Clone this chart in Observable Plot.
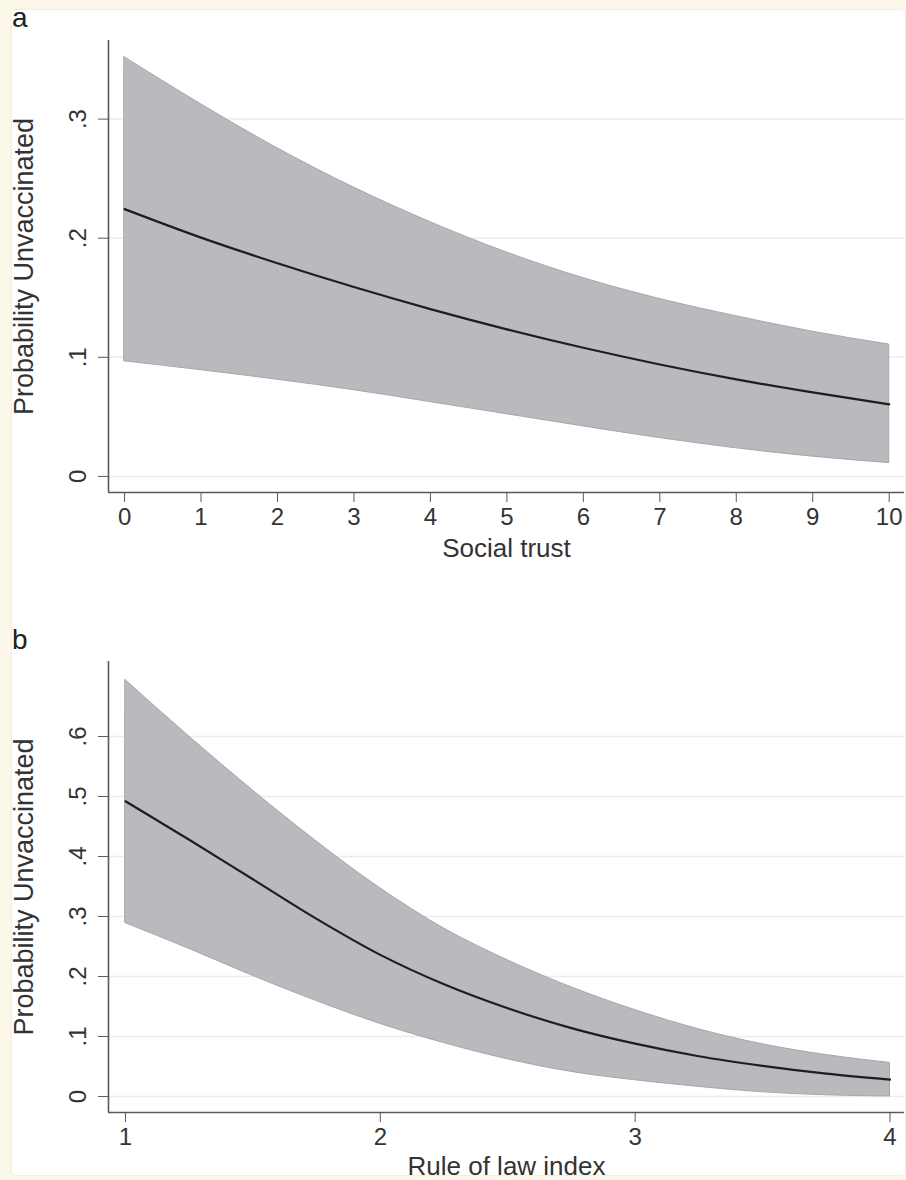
<!DOCTYPE html>
<html><head><meta charset="utf-8">
<script src="https://cdn.jsdelivr.net/npm/d3@7"></script>
<script src="https://cdn.jsdelivr.net/npm/@observablehq/plot@0.6"></script>
<style>
html,body{margin:0;padding:0;background:#fcf8ea;}
#page{position:relative;width:906px;height:1180px;overflow:hidden;font-family:"Liberation Sans",Arial,Helvetica,sans-serif;}
#card{position:absolute;left:12px;top:10px;width:893px;height:1165px;background:#fff;border-radius:4px;box-shadow:0 0 3px rgba(0,0,0,0.10);}
.panel{position:absolute;left:0;}
.letter{position:absolute;left:12px;font-size:28px;line-height:1;color:#222;z-index:2;}
</style></head><body>
<div id="page"><div id="card"></div>
<div id="pa" class="panel" style="top:0px"></div>
<div id="pb" class="panel" style="top:590px"></div>
<div class="letter" style="top:4px">a</div>
<div class="letter" style="top:626px">b</div>
</div>
<script>
// Panel a: Social trust
const trustX = [0, 1, 2, 3, 4, 5, 6, 7, 8, 9, 10];
const trustEst = [0.2244, 0.2005, 0.1790, 0.1590, 0.1405, 0.1235, 0.1080, 0.0940, 0.0815, 0.0705, 0.0605];
const trustHi = [0.352, 0.3125, 0.2755, 0.2425, 0.2135, 0.188, 0.1665, 0.149, 0.1345, 0.1215, 0.1107];
const trustLo = [0.0966, 0.0892, 0.0812, 0.0724, 0.0624, 0.0522, 0.0420, 0.0322, 0.0236, 0.0166, 0.0112];
const trustXTicks = [0, 1, 2, 3, 4, 5, 6, 7, 8, 9, 10];
const trustYTicks = [0, 0.1, 0.2, 0.3];

// Panel b: Rule of law index
const lawX = [1, 1.25, 1.5, 1.75, 2, 2.25, 2.5, 2.75, 3, 3.25, 3.5, 3.75, 4];
const lawEst = [0.492, 0.428, 0.362, 0.296, 0.236, 0.187, 0.147, 0.114, 0.088, 0.067, 0.051, 0.038, 0.028];
const lawHi = [0.694, 0.600, 0.510, 0.425, 0.347, 0.280, 0.227, 0.182, 0.144, 0.112, 0.087, 0.069, 0.056];
const lawLo = [0.289, 0.246, 0.201, 0.159, 0.121, 0.089, 0.062, 0.041, 0.027, 0.016, 0.007, 0.002, 0.0];
const lawXTicks = [1, 2, 3, 4];
const lawYTicks = [0, 0.1, 0.2, 0.3, 0.4, 0.5, 0.6];

const yLabel = "Probability Unvaccinated";
const fontFamily = '"Liberation Sans", Arial, Helvetica, sans-serif';
const fmt = d => d === 0 ? "0" : String(+d.toFixed(2)).replace(/^0\./, ".");

function panel({xs, est, lo, hi, xDomain, yDomain, xTicks, yTicks, xLabel, height, marginTop, marginBottom, titleDy}) {
  const data = xs.map((x, i) => ({x, est: est[i], lo: lo[i], hi: hi[i]}));
  return Plot.plot({
    width: 906, height, marginLeft: 108, marginRight: 2, marginTop, marginBottom,
    style: {background: "transparent", fontFamily, color: "#333", overflow: "visible"},
    x: {domain: xDomain},
    y: {domain: yDomain},
    marks: [
      Plot.gridY(yTicks, {stroke: "#ececec", strokeOpacity: 1, strokeWidth: 1.5}),
      Plot.areaY(data, {x: "x", y1: "lo", y2: "hi", fill: "#b9babd", stroke: "#a6a7aa", strokeWidth: 1, curve: "monotone-x"}),
      Plot.lineY(data, {x: "x", y: "est", stroke: "#1e1e1e", strokeWidth: 2.2, curve: "monotone-x"}),
      Plot.ruleX([xDomain[0]], {stroke: "#5a5a5a", strokeWidth: 1.6}),
      Plot.ruleY([yDomain[0]], {stroke: "#5a5a5a", strokeWidth: 1.6}),
      Plot.axisX({ticks: xTicks, tickSize: 10, tickPadding: 5, fontSize: 24, label: null, stroke: "#5a5a5a", fill: "#333", tickFormat: d => String(d)}),
      Plot.axisY({ticks: yTicks, tickSize: 10, tickPadding: 13, tickRotate: -90, tickFormat: fmt, fontSize: 24, label: null, stroke: "#5a5a5a", fill: "#333"}),
      Plot.text([xLabel], {frameAnchor: "bottom", dy: titleDy, fontSize: 26, fill: "#333", text: d => d}),
      Plot.text([yLabel], {frameAnchor: "left", textAnchor: "middle", dx: -84, rotate: -90, fontSize: 27, fill: "#333", text: d => d})
    ]
  });
}

document.getElementById("pa").append(panel({
  xs: trustX, est: trustEst, lo: trustLo, hi: trustHi,
  xDomain: [-0.21, 10.2], yDomain: [-0.0135, 0.366],
  xTicks: trustXTicks, yTicks: trustYTicks, xLabel: "Social trust",
  height: 580, marginTop: 40, marginBottom: 88, titleDy: 64
}));
document.getElementById("pb").append(panel({
  xs: lawX, est: lawEst, lo: lawLo, hi: lawHi,
  xDomain: [0.9333, 4.057], yDomain: [-0.0267, 0.725],
  xTicks: lawXTicks, yTicks: lawYTicks, xLabel: "Rule of law index",
  height: 590, marginTop: 71, marginBottom: 68, titleDy: 62
}));
</script>
</body></html>
